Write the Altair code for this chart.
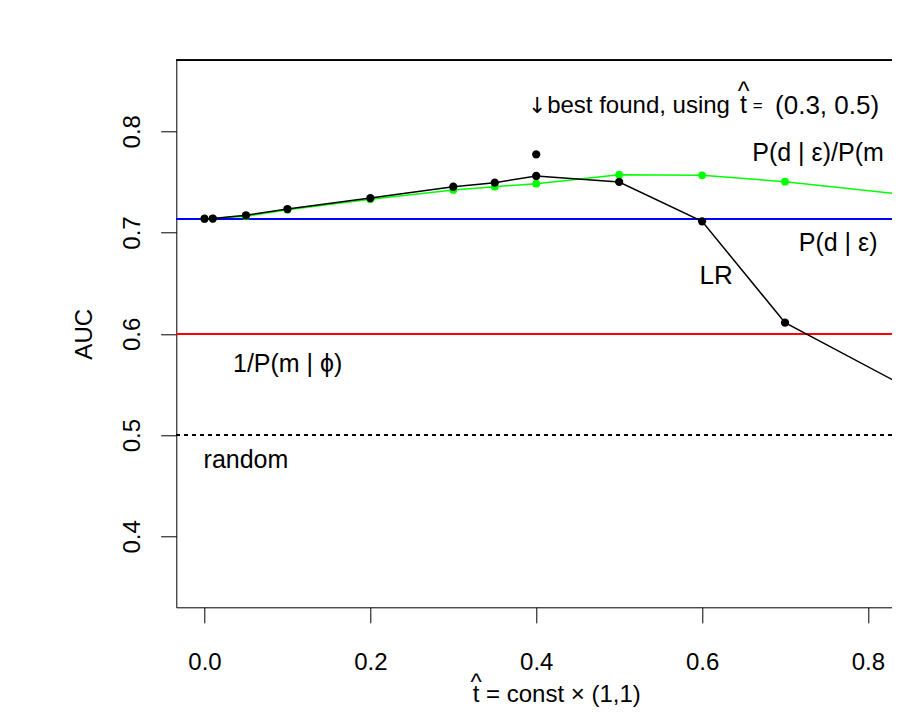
import altair as alt
import pandas as pd

# ---- data ----
x_vals = [0.0, 0.01, 0.05, 0.1, 0.2, 0.3, 0.35, 0.4, 0.5, 0.6, 0.7, 0.9]
lr_auc = [0.7136, 0.7138, 0.717, 0.7232, 0.734, 0.7452, 0.7492, 0.7558, 0.7499, 0.711, 0.611, 0.524]
ratio_auc = [0.7136, 0.7138, 0.716, 0.7225, 0.7328, 0.742, 0.7452, 0.7482, 0.7571, 0.7565, 0.7502, 0.7326]
best_x = [0.4]
best_auc = [0.7772]
level_pde = 0.7136
level_inv_pm = 0.6
level_random = 0.5
x_ticks = [0.0, 0.2, 0.4, 0.6, 0.8]
y_ticks = [0.4, 0.5, 0.6, 0.7, 0.8]

center_texts = ["P(d | \u03b5)", "LR", "1/P(m | \u03d5)", "random", "="]
center_tx = [0.7640, 0.6170, 0.1003, 0.05, 0.6670]
center_ty = [0.69, 0.657, 0.5702, 0.475, 0.8249]
center_fs = [25, 26, 25, 25, 17]

left_texts = ["best found, using", "(0.3,  0.5)", "P(d | \u03b5)/P(m | \u03d5)"]
left_tx = [0.4132, 0.6880, 0.6605]
left_ty = [0.8249, 0.8249, 0.778]
left_fs = [24, 26, 25]

arrow_x = [0.4012]
arrow_y = [0.8249]
that_x = [0.6500]      # "t-hat" in the annotation
that_y = [0.8313]

X_DOMAIN = [-0.034, 0.829]
Y_DOMAIN = [0.33, 0.87]
FONT = "Liberation Sans"
XTITLE_REST = "= const \u00d7 (1,1)"

xs = alt.Scale(domain=X_DOMAIN, nice=False, zero=False)
ys = alt.Scale(domain=Y_DOMAIN, nice=False, zero=False)

df = pd.DataFrame({"x": x_vals, "lr": lr_auc, "ratio": ratio_auc})
best_df = pd.DataFrame({"x": best_x, "auc": best_auc})
ctext_df = pd.DataFrame({"label": center_texts, "x": center_tx, "y": center_ty, "fs": center_fs})
ltext_df = pd.DataFrame({"label": left_texts, "x": left_tx, "y": left_ty, "fs": left_fs})
arrow_df = pd.DataFrame({"label": ["\u2193"], "x": arrow_x, "y": arrow_y})
that_df = pd.DataFrame({"label": ["^\nt"], "x": that_x, "y": that_y})

x_axis = alt.Axis(
    values=x_ticks, format=".1f", grid=False, tickSize=15.6, labelPadding=47,
    labelBaseline="alphabetic", labelFontSize=24, labelFont=FONT, labelColor="black",
    domainColor="black", tickColor="black", labelFlush=False, labelOverlap=False,
    title=None,
)
y_axis = alt.Axis(
    values=y_ticks, format=".1f", grid=False, tickSize=15.6, labelPadding=21,
    labelAngle=270, labelAlign="center", labelBaseline="alphabetic",
    labelFontSize=24, labelFont=FONT, labelColor="black",
    domainColor="black", tickColor="black", labelFlush=False, labelOverlap=False,
    title="AUC", titleFont=FONT, titleFontSize=24, titleFontWeight="normal",
    titleColor="black", titleAngle=270, titleAlign="center", titleBaseline="alphabetic",
    titleX=-84.8, titleY=273.5,
)


def X(field):
    return alt.X(field, scale=xs, axis=x_axis)


def Y(field):
    return alt.Y(field, scale=ys, axis=y_axis)


base = alt.Chart(df)

green_line = base.mark_line(color="#00ff00", strokeWidth=1.5, clip=True).encode(
    x=X("x:Q"), y=Y("ratio:Q")
)
green_pts = base.mark_circle(color="#00ff00", size=60, opacity=1, clip=True).encode(
    x=X("x:Q"), y=Y("ratio:Q")
)
black_line = base.mark_line(color="black", strokeWidth=1.5, clip=True).encode(
    x=X("x:Q"), y=Y("lr:Q")
)
black_pts = base.mark_circle(color="black", size=68, opacity=1, clip=True).encode(
    x=X("x:Q"), y=Y("lr:Q")
)
best_pt = alt.Chart(best_df).mark_circle(color="black", size=68, opacity=1).encode(
    x=X("x:Q"), y=Y("auc:Q")
)

top_border = alt.Chart(df).mark_rule(color="black", strokeWidth=1).encode(
    y=alt.datum(Y_DOMAIN[1], type="quantitative")
)
blue_rule = alt.Chart(df).mark_rule(color="#0000ff", strokeWidth=1.5).encode(
    y=alt.datum(level_pde, type="quantitative")
)
red_rule = alt.Chart(df).mark_rule(color="#ff0000", strokeWidth=1.5).encode(
    y=alt.datum(level_inv_pm, type="quantitative")
)
dash_rule = alt.Chart(df).mark_rule(color="black", strokeWidth=1.2, strokeDash=[4, 4]).encode(
    y=alt.datum(level_random, type="quantitative")
)

ctext = alt.Chart(ctext_df).mark_text(
    font=FONT, color="black", align="center", baseline="middle"
).encode(
    x=X("x:Q"), y=Y("y:Q"), text="label:N", size=alt.Size("fs:Q", scale=None, legend=None)
)
ltext = alt.Chart(ltext_df).mark_text(
    font=FONT, color="black", align="left", baseline="middle"
).encode(
    x=X("x:Q"), y=Y("y:Q"), text="label:N", size=alt.Size("fs:Q", scale=None, legend=None)
)
arrow = alt.Chart(arrow_df).mark_text(
    font="DejaVu Sans", fontSize=22, color="black", align="center", baseline="middle"
).encode(x=X("x:Q"), y=Y("y:Q"), text="label:N")
that_in_plot = alt.Chart(that_df).mark_text(
    font=FONT, fontSize=25, color="black", align="center", baseline="alphabetic",
    lineBreak="\n", lineHeight=13,
).encode(x=X("x:Q"), y=Y("y:Q"), text="label:N")

# x-axis title: t-hat = const x (1,1), centred under the plot region of the original
xtitle_hat = alt.Chart(that_df).mark_text(
    font=FONT, fontSize=24, color="black", align="center", baseline="alphabetic",
    lineBreak="\n", lineHeight=12,
).encode(x=alt.value(299.7), y=alt.value(629.7), text="label:N")
xtitle_rest = alt.Chart(that_df).mark_text(
    font=FONT, fontSize=24, color="black", align="left", baseline="alphabetic",
).encode(x=alt.value(309.7), y=alt.value(641.7), text=alt.value(XTITLE_REST))

chart = alt.layer(
    green_line, top_border, blue_rule, red_rule, dash_rule,
    green_pts, black_line, black_pts, best_pt, ctext, ltext, arrow, that_in_plot,
    xtitle_hat, xtitle_rest,
).properties(
    width=715.7, height=547,
    autosize=alt.AutoSizeParams(type="none"),
    padding={"left": 168.3, "top": 52.3, "right": 0, "bottom": 100.7},
    background="white",
).configure_view(stroke=None)

chart.save("out.html", embed_options={"renderer": "svg", "actions": False})
